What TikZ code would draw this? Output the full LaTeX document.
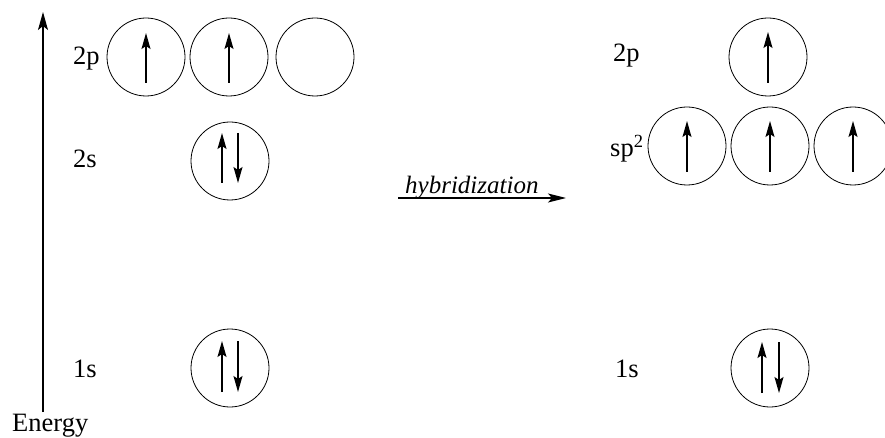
\documentclass[tikz,border=0pt]{standalone}
\usepackage{fontspec}
\setmainfont{Liberation Serif}
\usetikzlibrary{arrows.meta,calc}
\begin{document}
\begin{tikzpicture}[x=1pt,y=-1pt,
  orb/.style={circle, draw, minimum size=78pt, inner sep=0pt, line width=0.8pt},
  el/.style={line width=1.5pt, -{Stealth[length=16pt,width=9pt,inset=3pt]}},
  lbl/.style={anchor=base west, inner sep=0pt, font=\fontsize{26.5}{30}\selectfont},
  axis/.style={line width=1.1pt, -{Stealth[length=18pt,width=10pt,inset=4pt]}}]
\useasboundingbox (0,0) rectangle (885,438);
\clip (0,0) rectangle (885,438);
% energy axis
\coordinate (ebot) at (43,412);
\coordinate (etop) at (43,12);
\draw[axis] (ebot) -- (etop);
\node[lbl] (energy) at (12,431) {Energy};
% left labels
\node[lbl] (l2p) at (73,65) {2p};
\node[lbl] (l2s) at (73,168) {2s};
\node[lbl] (l1s) at (73,377) {1s};
% left orbitals
\node[orb] (p1) at (146,57) {};
\node[orb] (p2) at (229,57) {};
\node[orb] (p3) at (315,57) {};
\node[orb] (s2) at (230,161) {};
\node[orb] (s1) at (230,368) {};
\draw[el] ($(p1.center)+(0,26)$) -- ($(p1.center)+(0,-24)$);
\draw[el] ($(p2.center)+(0,26)$) -- ($(p2.center)+(0,-24)$);
\draw[el] ($(s2.center)+(-8,22)$) -- ($(s2.center)+(-8,-28)$);
\draw[el] ($(s2.center)+(8,-28)$) -- ($(s2.center)+(8,22)$);
\draw[el] ($(s1.center)+(-8,24)$) -- ($(s1.center)+(-8,-27)$);
\draw[el] ($(s1.center)+(8,-27)$) -- ($(s1.center)+(8,24)$);
% hybridization arrow
\coordinate (hs) at (398,198);
\coordinate (he) at (566,198);
\draw[line width=1.3pt, -{Stealth[length=18pt,width=9pt,inset=4pt]}] (hs) -- (he);
\node[lbl, font=\fontsize{25}{28}\selectfont\itshape] (hyb) at (405,194) {hybridization};
% right labels
\node[lbl] (r2p) at (613,62) {2p};
\node[lbl] (rsp) at (610,157) {sp$^{\mathrm{2}}$};
\node[lbl] (r1s) at (615,377) {1s};
% right orbitals
\node[orb] (q1) at (768,57) {};
\node[orb] (h1) at (687,146) {};
\node[orb] (h2) at (770,146) {};
\node[orb] (h3) at (853,146) {};
\node[orb] (t1) at (770,368) {};
\draw[el] ($(q1.center)+(0,26)$) -- ($(q1.center)+(0,-25)$);
\draw[el] ($(h1.center)+(0,26)$) -- ($(h1.center)+(0,-25)$);
\draw[el] ($(h2.center)+(0,26)$) -- ($(h2.center)+(0,-25)$);
\draw[el] ($(h3.center)+(0,26)$) -- ($(h3.center)+(0,-25)$);
\draw[el] ($(t1.center)+(-8,25)$) -- ($(t1.center)+(-8,-26)$);
\draw[el] ($(t1.center)+(9,-26)$) -- ($(t1.center)+(9,25)$);
\end{tikzpicture}
\end{document}
